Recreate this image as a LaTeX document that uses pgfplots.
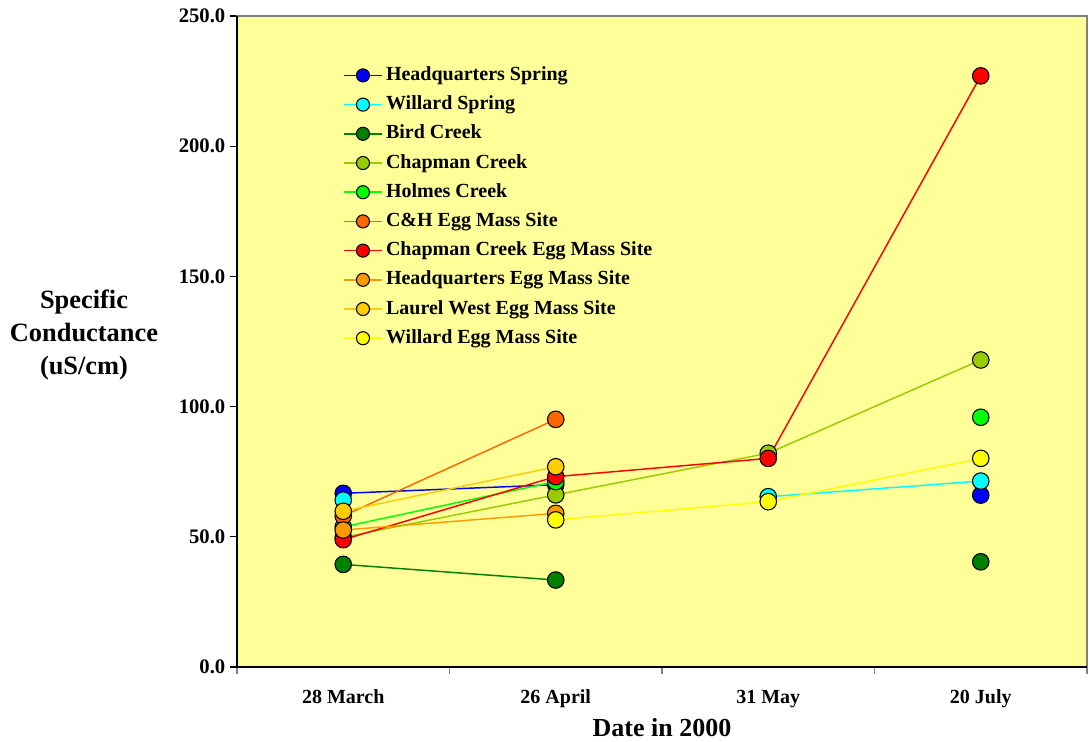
\documentclass[border=0pt]{standalone}
\usepackage{fontspec}
\setmainfont{Liberation Serif}
\usepackage{pgfplots}
\pgfplotsset{compat=1.18}

\definecolor{bgyellow}{RGB}{255,255,153}
\definecolor{cHQS}{RGB}{0,0,255}
\definecolor{cWS}{RGB}{0,255,255}
\definecolor{cBird}{RGB}{0,128,0}
\definecolor{cChap}{RGB}{153,204,0}
\definecolor{cHolmes}{RGB}{0,255,0}
\definecolor{cCH}{RGB}{255,102,0}
\definecolor{cChapEgg}{RGB}{255,0,0}
\definecolor{cHQEgg}{RGB}{255,153,0}
\definecolor{cLaurel}{RGB}{255,204,0}
\definecolor{cWEgg}{RGB}{255,255,0}

% conductance (uS/cm), nan = not sampled
\pgfplotstableread{
x  hqs   ws    bird  chap   holmes ch    chapegg hqegg laurel wegg
1  66.7  64.1  39.4  49.8   53.8   58.0  48.9    52.6  59.8   nan
2  70.0  nan   33.4  66.1   71.2   95.1  73.1    59.0  76.9   56.5
3  nan   65.4  nan   82.1   nan    nan   80.1    nan   nan    63.5
4  66.0  71.4  40.4  117.9  95.9   nan   227.0   nan   nan    80.1
}\conductance

\pgfplotsset{
  site/.style={line width=1.1pt, color=#1, mark=*, mark size=6.2pt,
    mark options={draw=black, fill=#1, line width=0.8pt}},
}

\begin{document}
\begin{tikzpicture}
\path[use as bounding box] (-177.75pt,-56.25pt) rectangle (639pt,500.25pt);
\begin{axis}[
    scale only axis,
    width=637.5pt, height=488.25pt,
    xmin=0.5, xmax=4.5, ymin=0, ymax=250,
    unbounded coords=jump,
    axis background/.style={fill=bgyellow},
    axis line style={gray, line width=1pt},
    tick align=outside,
    xtick={1,2,3,4},
    xticklabels={28 March, 26 April, 31 May, 20 July},
    major x tick style={draw=none},
    minor xtick={0.5,1.5,2.5,3.5,4.5},
    minor x tick style={gray, line width=0.8pt},
    xtick pos=bottom,
    ytick={0,50,...,250},
    ytick pos=left,
    y tick style={black, line width=0.8pt},
    major tick length=5.25pt, minor tick length=5.25pt,
    yticklabel style={/pgf/number format/fixed, /pgf/number format/zerofill,
      /pgf/number format/precision=1, /pgf/number format/assume math mode=true,
      font=\bfseries\fontsize{15.5}{18}\selectfont},
    xticklabel style={font=\bfseries\fontsize{15}{18}\selectfont, yshift=-8.5pt},
    xlabel={Date in 2000},
    xlabel style={at={(rel axis cs:0.5,0)}, anchor=center, yshift=-45.5pt,
      font=\bfseries\fontsize{19.5}{24}\selectfont},
    ylabel={Specific\\Conductance\\(uS/cm)},
    ylabel style={at={(rel axis cs:-0.18,0.51)}, anchor=center, rotate=-90,
      align=center, font=\bfseries\fontsize{19.8}{24.5}\selectfont},
    legend cell align=left,
    legend style={at={(rel axis cs:0.1247,0.925)}, anchor=north west,
      draw=none, fill=none, inner sep=0pt, row sep=6.4pt,
      font=\bfseries\fontsize{15}{17}\selectfont,
      nodes={inner sep=1pt, text height=10.5pt, text depth=3pt},
      /tikz/every odd column/.append style={column sep=1.5pt}},
    legend image code/.code={
      \draw[mark repeat=2, mark phase=2, #1, mark size=4.9pt]
        plot coordinates {(0pt,0pt) (14.25pt,0pt) (28.5pt,0pt)};},
    after end axis/.code={
      \draw[black, line width=1pt] (rel axis cs:0,1) -- (rel axis cs:0,0) -- (rel axis cs:1,0);},
]
\addplot[site=cHQS] table[x=x, y=hqs] {\conductance};
\addlegendentry{Headquarters Spring}
\addplot[site=cWS] table[x=x, y=ws] {\conductance};
\addlegendentry{Willard Spring}
\addplot[site=cBird] table[x=x, y=bird] {\conductance};
\addlegendentry{Bird Creek}
\addplot[site=cChap] table[x=x, y=chap] {\conductance};
\addlegendentry{Chapman Creek}
\addplot[site=cHolmes] table[x=x, y=holmes] {\conductance};
\addlegendentry{Holmes Creek}
\addplot[site=cCH] table[x=x, y=ch] {\conductance};
\addlegendentry{C\&H Egg Mass Site}
\addplot[site=cChapEgg] table[x=x, y=chapegg] {\conductance};
\addlegendentry{Chapman Creek Egg Mass Site}
\addplot[site=cHQEgg] table[x=x, y=hqegg] {\conductance};
\addlegendentry{Headquarters Egg Mass Site}
\addplot[site=cLaurel] table[x=x, y=laurel] {\conductance};
\addlegendentry{Laurel West Egg Mass Site}
\addplot[site=cWEgg] table[x=x, y=wegg] {\conductance};
\addlegendentry{Willard Egg Mass Site}
\end{axis}
\end{tikzpicture}
\end{document}
